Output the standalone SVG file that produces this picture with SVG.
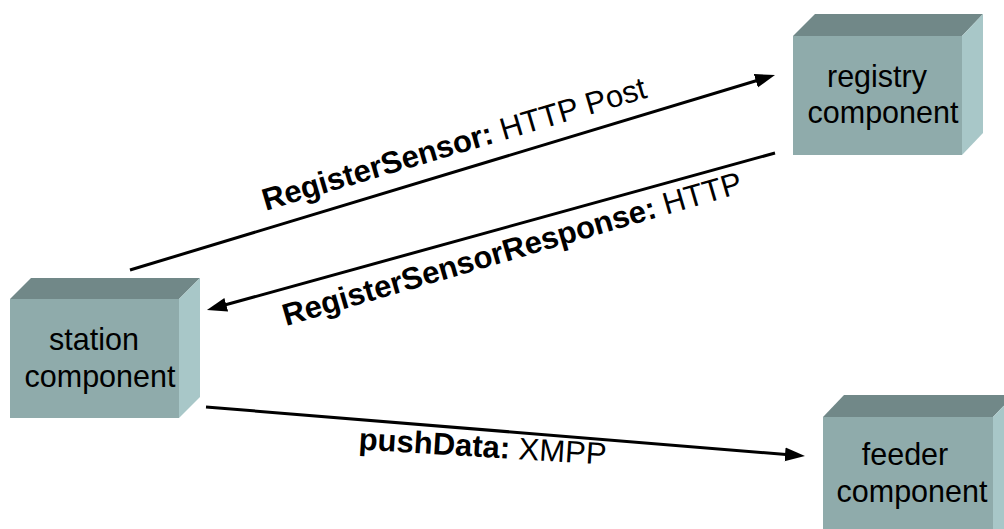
<svg xmlns="http://www.w3.org/2000/svg" width="1004" height="529" viewBox="0 0 1004 529">
  <style>
    .front { fill: #8fabab; }
    .top { fill: #718888; }
    .side { fill: #a8c7c8; }
    .ntext { font-family: "Liberation Sans", Arial, sans-serif; font-size: 30.5px; fill: #000; text-anchor: middle; }
    .label { font-family: "Liberation Sans", Arial, sans-serif; font-size: 31px; fill: #000; text-anchor: middle; }
    .b { font-weight: bold; }
    .conn { stroke: #000; stroke-width: 3; fill: none; marker-end: url(#head); }
  </style>
  <defs>
    <marker id="head" markerUnits="userSpaceOnUse" markerWidth="22" markerHeight="16" refX="10" refY="7" orient="auto">
      <path d="M0,0 L20,7 L0,14 Z" fill="#000"/>
    </marker>
  </defs>
  <rect width="1004" height="529" fill="#fff"/>

  <!-- registry component -->
  <g id="registry">
    <polygon class="top" points="793,36 815,14 983,14 962,36"/>
    <polygon class="side" points="962,36 983,14 983,133 962,155"/>
    <rect class="front" x="793" y="36" width="169" height="119"/>
    <text class="ntext" x="877" y="87">registry</text>
    <text class="ntext" x="883" y="123">component</text>
  </g>

  <!-- station component -->
  <g id="station">
    <polygon class="top" points="10,299 31,278 200,278 179,299"/>
    <polygon class="side" points="179,299 200,278 200,397 179,418"/>
    <rect class="front" x="10" y="299" width="169" height="119"/>
    <text class="ntext" x="94" y="350">station</text>
    <text class="ntext" x="100" y="387">component</text>
  </g>

  <!-- feeder component -->
  <g id="feeder">
    <polygon class="top" points="823,417 844,395 1014,395 993,417"/>
    <polygon class="side" points="993,417 1014,395 1014,540 993,540"/>
    <rect class="front" x="823" y="417" width="170" height="120"/>
    <text class="ntext" x="905" y="465">feeder</text>
    <text class="ntext" x="912" y="502">component</text>
  </g>

  <!-- connectors -->
  <g id="connectors">
    <line class="conn" x1="130" y1="270" x2="765.4" y2="77.9"/>
    <line class="conn" x1="775" y1="153" x2="216.6" y2="307.3"/>
    <line class="conn" x1="206" y1="407" x2="795" y2="455.2"/>
  </g>

  <!-- connector labels -->
  <g id="labels">
    <text class="label" transform="translate(457,154) rotate(-16.5)"><tspan class="b">RegisterSensor:</tspan> HTTP Post</text>
    <text class="label" transform="translate(515,259) rotate(-16.3)"><tspan class="b">RegisterSensorResponse:</tspan> HTTP</text>
    <text class="label" transform="translate(482,457) rotate(3.5)"><tspan class="b">pushData:</tspan> XMPP</text>
  </g>
</svg>
